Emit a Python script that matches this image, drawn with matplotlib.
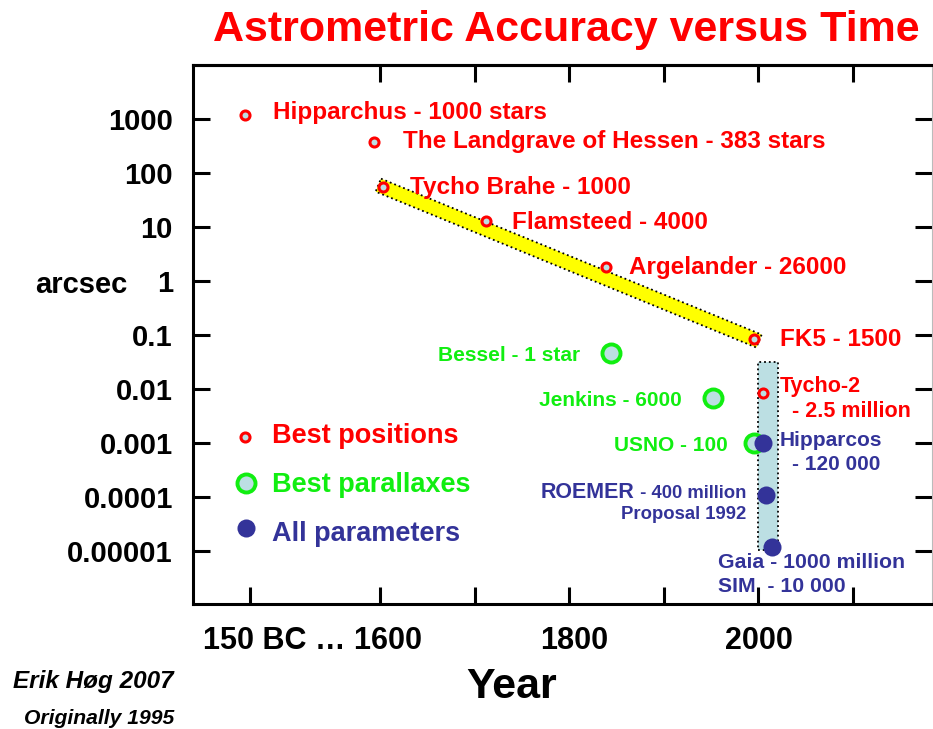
import matplotlib
matplotlib.use("Agg")
import matplotlib.pyplot as plt
from matplotlib.patches import Polygon, Rectangle
from matplotlib.ticker import NullLocator
import numpy as np

plt.rcParams["font.family"] = ["Liberation Sans", "DejaVu Sans"]
plt.rcParams["font.weight"] = "bold"

# best positions (year on the drawn axis, accuracy in arcsec)
pos_names = ["Hipparchus - 1000 stars", "The Landgrave of Hessen - 383 stars",
             "Tycho Brahe - 1000", "Flamsteed - 4000", "Argelander - 26000",
             "FK5 - 1500", "Tycho-2"]
pos_year = [1457, 1594, 1603, 1712, 1839, 1996, 2005]
pos_acc = [1200, 380, 55, 13, 1.8, 0.084, 0.0084]

# best parallaxes
plx_names = ["Bessel - 1 star", "Jenkins - 6000", "USNO - 100"]
plx_year = [1844, 1952, 1996]
plx_acc = [0.046, 0.0068, 0.001]

# all parameters
all_names = ["Hipparcos", "ROEMER", "Gaia - 1000 million"]
all_year = [2005, 2008, 2015]
all_acc = [0.001, 0.000109, 0.0000119]

# space era band
band_years = [2000, 2021]
band_acc = [0.0000105, 0.0316]

ytick_vals = [1e-5, 1e-4, 1e-3, 1e-2, 1e-1, 1, 10, 100, 1000]
ytick_labels = ["0.00001", "0.0001", "0.001", "0.01", "0.1", "1", "10", "100", "1000"]
xtick_marks = [1462, 1600, 1700, 1800, 1900, 2000, 2100]
xtop_marks = [1600, 1700, 1800, 1900, 2000, 2100]
xlabel_pos = [1528, 1805, 2001]
xlabel_txt = ["150 BC \u2026 1600", "1800", "2000"]

RED = "#ff0000"
GREEN = "#11ee11"
BLUE = "#333399"
FILL = "#bcdfe3"

fig = plt.figure(figsize=(9.33, 7.29), dpi=100)
ax = fig.add_axes([193 / 933, 1 - 604 / 729, 739 / 933, 539 / 729])

ax.set_xlim(1402, 2184)
ax.set_yscale("log")
ax.set_ylim(1.05e-6, 1e4)

# ticks
ax.set_yticks(ytick_vals, labels=ytick_labels)
ax.yaxis.set_minor_locator(NullLocator())
ax.tick_params(axis="y", which="major", direction="in", length=12, width=2.2,
               right=True, pad=14.5, labelsize=21)
ax.set_xticks(xtick_marks, labels=[""] * len(xtick_marks))
ax.set_xticks(xlabel_pos, labels=xlabel_txt, minor=True)
ax.tick_params(axis="x", which="major", direction="in", length=12, width=2.2)
ax.tick_params(axis="x", which="minor", length=0, pad=15.5, labelsize=22)

top = ax.secondary_xaxis("top")
top.set_xticks(xtop_marks, labels=[""] * len(xtop_marks))
top.tick_params(direction="in", length=12, width=2.2)
top.spines["top"].set_linewidth(2.2)

for side in ["left", "bottom", "top"]:
    ax.spines[side].set_linewidth(2.2)
ax.spines["right"].set_linewidth(0.8)
ax.spines["right"].set_color("#bbbbbb")

# yellow band from Tycho Brahe to FK5
p0 = ax.transData.transform((pos_year[2], pos_acc[2]))
p1 = ax.transData.transform((pos_year[5], pos_acc[5]))
d = (p1 - p0) / np.hypot(*(p1 - p0))
n = np.array([-d[1], d[0]])
a = p0 - 5 * d
b = p1 + 5 * d
corners = np.array([a + 7 * n, b + 7 * n, b - 7 * n, a - 7 * n])
corners = ax.transData.inverted().transform(corners)
ax.add_patch(Polygon(corners, closed=True, facecolor="#ffff00", edgecolor="black",
                     linestyle=":", linewidth=1.3, zorder=2))

ax.add_patch(Rectangle((band_years[0], band_acc[0]), band_years[1] - band_years[0],
                       band_acc[1] - band_acc[0], facecolor=FILL, edgecolor="black",
                       linestyle=":", linewidth=1.3, zorder=2))

ax.plot(pos_year, pos_acc, "o", ms=6.5, mew=2.2, mec=RED, mfc=FILL, ls="none", zorder=4)
ax.plot(plx_year, plx_acc, "o", ms=13, mew=2.8, mec=GREEN, mfc=FILL, ls="none", zorder=3)
ax.plot(all_year, all_acc, "o", ms=13, mew=0, mfc=BLUE, ls="none", zorder=5)


def note(x, y, s, dx, dy, color, size, ha="left"):
    ax.annotate(s, (x, y), xytext=(dx, dy), textcoords="offset pixels",
                color=color, fontsize=size, fontweight="bold",
                ha=ha, va="center_baseline")


red_off = [(28, 5), (29, 3), (27, 2), (26, 1), (23, 2), (26, 2), (17, 9)]
for i, name in enumerate(pos_names):
    size = 15.5 if name == "Tycho-2" else 17.5
    note(pos_year[i], pos_acc[i], name, *red_off[i], RED, size)
note(pos_year[6], pos_acc[6], "- 2.5 million", 29, -16, RED, 15.5)

green_off = [(-31, 0), (-31, 0), (-27, 0)]
for i, name in enumerate(plx_names):
    note(plx_year[i], plx_acc[i], name, *green_off[i], GREEN, 15, ha="right")

note(all_year[0], all_acc[0], all_names[0], 17, 5, BLUE, 15)
note(all_year[0], all_acc[0], "- 120 000", 29, -19, BLUE, 15)
note(all_year[1], all_acc[1], all_names[1], -131, 5, BLUE, 15.5, ha="right")
note(all_year[1], all_acc[1], " - 400 million", -19, 4, BLUE, 13.3, ha="right")
note(all_year[1], all_acc[1], "Proposal 1992", -19, -17, BLUE, 13.3, ha="right")
note(all_year[2], all_acc[2], all_names[2], -54, -13, BLUE, 15.3)
note(all_year[2], all_acc[2], "SIM  - 10 000", -54, -37, BLUE, 15.3)

# key
def ax_xy(px, py):
    return (px - 193) / 739, (604 - py) / 539


kx, ky = ax_xy(245, 437)
ax.plot(kx, ky, "o", ms=6.5, mew=2.2, mec=RED, mfc=FILL, transform=ax.transAxes)
kx, ky = ax_xy(246, 483)
ax.plot(kx, ky, "o", ms=13, mew=2.8, mec=GREEN, mfc=FILL, transform=ax.transAxes)
kx, ky = ax_xy(246, 528)
ax.plot(kx, ky, "o", ms=13, mew=0, mfc=BLUE, transform=ax.transAxes)
for label, py, col in [("Best positions", 433, RED), ("Best parallaxes", 482, GREEN),
                       ("All parameters", 531, BLUE)]:
    tx, ty = ax_xy(272, py)
    ax.text(tx, ty, label, transform=ax.transAxes, color=col, fontsize=19.5,
            fontweight="bold", ha="left", va="center_baseline")

fig.text(35 / 933, 1 - 282 / 729, "arcsec", fontsize=21, fontweight="bold",
         ha="left", va="center_baseline")
fig.text(512 / 933, 1 - 683 / 729, "Year", fontsize=31, fontweight="bold",
         ha="center", va="center_baseline")
fig.text(566 / 933, 1 - 25 / 729, "Astrometric Accuracy versus Time", color=RED,
         fontsize=31, fontweight="bold", ha="center", va="center_baseline")
fig.text(174 / 933, 1 - 679 / 729, "Erik H\u00f8g 2007", fontsize=17.5,
         fontweight="bold", style="italic", ha="right", va="center_baseline")
fig.text(174 / 933, 1 - 717 / 729, "Originally 1995", fontsize=15.2,
         fontweight="bold", style="italic", ha="right", va="center_baseline")

fig.savefig("out.png", dpi=100)
